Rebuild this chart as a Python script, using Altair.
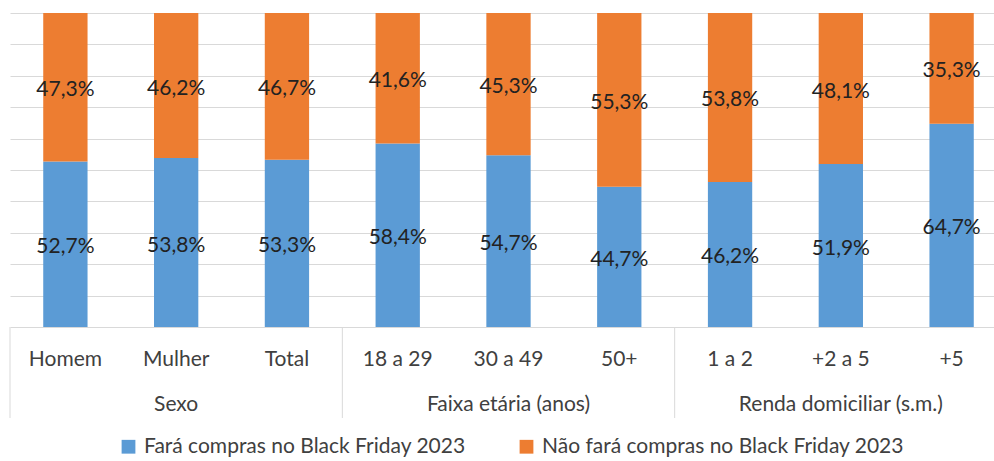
import altair as alt
import pandas as pd

FONT = "Lato"
FS = 21

categories = ["Homem", "Mulher", "Total", "18 a 29", "30 a 49", "50+", "1 a 2", "+2 a 5", "+5"]
group_of = ["Sexo", "Sexo", "Sexo",
            "Faixa etária (anos)", "Faixa etária (anos)", "Faixa etária (anos)",
            "Renda domiciliar (s.m.)", "Renda domiciliar (s.m.)", "Renda domiciliar (s.m.)"]
group_names = ["Sexo", "Faixa etária (anos)", "Renda domiciliar (s.m.)"]
series = ["Fará compras no Black Friday 2023", "Não fará compras no Black Friday 2023"]
fara = [52.7, 53.8, 53.3, 58.4, 54.7, 44.7, 46.2, 51.9, 64.7]
nao = [47.3, 46.2, 46.7, 41.6, 45.3, 55.3, 53.8, 48.1, 35.3]
colors = ["#5b9bd5", "#ed7d31"]

rows = []
for i, c in enumerate(categories):
    for order, (s, vals) in enumerate(((series[0], fara), (series[1], nao))):
        v = vals[i]
        rows.append(dict(cat=c, series=s, value=v, order=order,
                         label=f"{v:.1f}".replace(".", ",") + "%"))
df = pd.DataFrame(rows)

members = {g: [c for c, gg in zip(categories, group_of) if gg == g] for g in group_names}
df_cat = pd.DataFrame({"cat": categories})
df_grp = pd.DataFrame({"cat": [members[g][len(members[g]) // 2] for g in group_names],
                       "group": group_names})
df_sep = pd.DataFrame({"cat": [members[g][0] for g in group_names]})

STEP_RANGE = 997
xscale = alt.Scale(domain=categories, range=[0, STEP_RANGE], paddingInner=0.6, paddingOuter=0.3)
yscale = alt.Scale(domain=[0, 100], nice=False)
half_gap = STEP_RANGE / len(categories) * 0.3

yaxis = alt.Axis(values=list(range(0, 101, 10)), grid=True, labels=False,
                 ticks=False, domain=False, title=None,
                 gridColor="#d9d9d9", gridWidth=1, gridOpacity=1)

bars = alt.Chart(df).mark_bar().encode(
    x=alt.X("cat:N", scale=xscale, axis=None, sort=categories),
    y=alt.Y("value:Q", stack="zero", scale=yscale, axis=yaxis),
    color=alt.Color("series:N", scale=alt.Scale(domain=series, range=colors),
                    legend=alt.Legend(orient="none", legendX=108, legendY=423,
                                      direction="horizontal", title=None,
                                      symbolType="square", symbolSize=190,
                                      symbolStrokeWidth=0, labelFont=FONT,
                                      labelFontSize=FS, labelColor="#404040",
                                      labelOffset=5, columnPadding=50, padding=0,
                                      labelLimit=1000)),
    order=alt.Order("order:Q"),
)

labels = alt.Chart(df).transform_stack(
    stack="value", groupby=["cat"], as_=["y0", "y1"],
    sort=[alt.SortField("order", order="ascending")]
).transform_calculate(
    mid="(datum.y0 + datum.y1) / 2"
).mark_text(font=FONT, fontSize=FS, color="#222222", baseline="middle", dy=3).encode(
    x=alt.X("cat:N", scale=xscale, axis=None, sort=categories),
    y=alt.Y("mid:Q", scale=yscale, axis=yaxis),
    text="label:N",
)

cat_labels = alt.Chart(df_cat).mark_text(font=FONT, fontSize=FS, color="#404040",
                                         baseline="alphabetic").encode(
    x=alt.X("cat:N", scale=xscale, axis=None, sort=categories),
    y=alt.value(353),
    text="cat:N",
)

grp_labels = alt.Chart(df_grp).mark_text(font=FONT, fontSize=FS, color="#404040",
                                         baseline="alphabetic").encode(
    x=alt.X("cat:N", scale=xscale, axis=None, sort=categories),
    y=alt.value(398),
    text="group:N",
)

seps = alt.Chart(df_sep).mark_rule(color="#d9d9d9", strokeWidth=1, xOffset=-half_gap).encode(
    x=alt.X("cat:N", scale=xscale, axis=None, sort=categories, bandPosition=0),
    y=alt.value(314),
    y2=alt.value(405),
)

chart = alt.layer(bars, labels, cat_labels, grp_labels, seps).properties(
    width=984, height=314,
    padding={"left": 10, "top": 13, "right": 0, "bottom": 134},
    autosize=alt.AutoSizeParams(type="none"),
).configure_view(stroke=None)

chart.save("out.html", embed_options={"renderer": "svg", "actions": False})
